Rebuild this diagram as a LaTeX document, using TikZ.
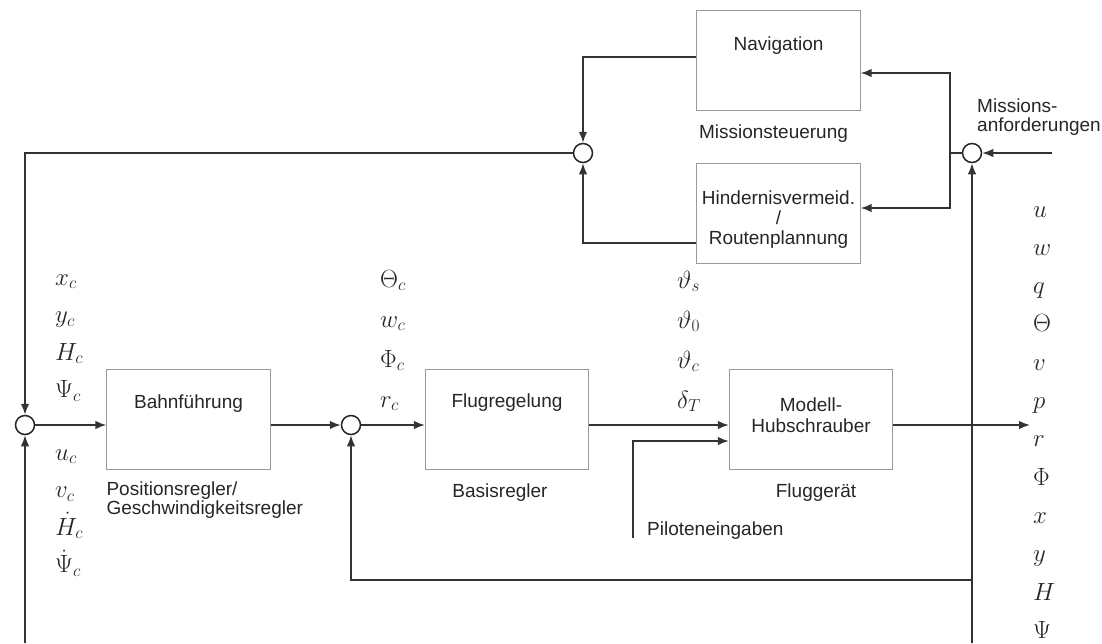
\documentclass[tikz,border=0pt]{standalone}
\usepackage{fontspec}
\setmainfont{Liberation Sans}
\usetikzlibrary{arrows.meta}

\begin{document}
\begin{tikzpicture}[x=1pt,y=-1pt,
    line/.style={draw=black!80,line width=1.6pt},
    sig/.style={line,-{Latex[length=11pt,width=8.5pt]}},
    block/.style={draw=black!40,line width=0.8pt,minimum width=163.5pt,minimum height=100pt,inner sep=0pt},
    sumpt/.style={circle,draw=black!85,line width=1.5pt,minimum size=19pt,inner sep=0pt},
    txt/.style={text=black!85,font=\fontsize{19}{21}\selectfont,inner sep=0pt},
    var/.style={text=black!85,font=\fontsize{24}{26}\selectfont,inner sep=0pt,
      text height=14pt,text depth=5pt,anchor=base west}]
  \useasboundingbox (0,0) rectangle (1102,643);

  % blocks
  \node[block] (bahn) at (188.5,419) {};
  \node[block] (flug) at (507,419) {};
  \node[block] (modell) at (811,419) {};
  \node[block] (nav) at (778.5,60) {};
  \node[block] (hind) at (778.5,213) {};

  \node[txt,anchor=base] (bahnt) at ([yshift=-40pt]bahn.north) {Bahnführung};
  \node[txt,anchor=base] (flugt) at ([yshift=-39pt]flug.north) {Flugregelung};
  \node[txt,anchor=base] (navt) at ([yshift=-41pt]nav.north) {Navigation};
  \node[txt,anchor=north,align=center,font=\fontsize{19}{21}\selectfont] (modellt)
    at ([yshift=-29pt]modell.north) {Modell-\\Hubschrauber};
  \node[txt,anchor=north,align=center,font=\fontsize{19}{20}\selectfont] (hindt)
    at ([yshift=-28pt]hind.north) {Hindernisvermeid.\\/\\Routenplannung};

  % captions
  \node[txt,anchor=north west,align=left,font=\fontsize{19}{17}\selectfont] (post)
    at ([yshift=-12pt]bahn.south west) {Positionsregler/\\Geschwindigkeitsregler};
  \node[txt,anchor=base] (basis) at ([xshift=-7pt,yshift=-28pt]flug.south) {Basisregler};
  \node[txt,anchor=base] (gerät) at ([xshift=5pt,yshift=-28pt]modell.south) {Fluggerät};
  \node[txt,anchor=base] (mist) at ([xshift=-5pt,yshift=-28pt]nav.south) {Missionsteuerung};
  \node[txt,anchor=base west] (pilt) at (647,535) {Piloteneingaben};
  \node[txt,anchor=north west,align=left,font=\fontsize{19}{19}\selectfont] (mant)
    at (977,99) {Missions-\\anforderungen};

  % sums
  \node[sumpt] (sumL) at (25,425) {};
  \node[sumpt] (sumF) at (351,425) {};
  \node[sumpt] (sumM) at (583,153) {};
  \node[sumpt] (sumR) at (972,153) {};

  \coordinate (botL) at (25,643);
  \coordinate (botR) at (972,643);
  \coordinate (fb) at (972,580);
  \coordinate (fork) at (950,153);
  \coordinate (missin) at (1052,153);
  \coordinate (pilot) at (633,538);
  \coordinate (out) at (1030,425);

  % signals
  \foreach \t [count=\i from 0] in {x_c,y_c,H_c,\Psi_c}
    \node[var] (soll\i) at (55,{285+37.5*\i}) {$\t$};
  \foreach \t [count=\i from 0] in {u_c,v_c,\dot{H}_c,\dot{\Psi}_c}
    \node[var] (sollv\i) at (55,{460+37.5*\i}) {$\t$};
  \foreach \t [count=\i from 0] in {\Theta_c,w_c,\Phi_c,r_c}
    \node[var] (lage\i) at (380,{287+40*\i}) {$\t$};
  \foreach \t [count=\i from 0] in {\vartheta_s,\vartheta_0,\vartheta_c,\delta_T}
    \node[var] (stell\i) at (677,{288+40*\i}) {$\t$};
  \foreach \t [count=\i from 0] in {u,w,q,\Theta,v,p,r,\Phi,x,y,H,\Psi}
    \node[var] (zust\i) at (1033,{217+38.3*\i}) {$\t$};

  % connectors
  \draw[sig] (sumL.east) -- (sumL.east -| bahn.west);
  \draw[sig] (bahn.east |- sumF) -- (sumF.west);
  \draw[sig] (sumF.east) -- (sumF.east -| flug.west);
  \draw[sig] (flug.east |- sumF) -- (modell.west |- sumF);
  \draw[sig] (pilot) |- ([yshift=-16pt]modell.west |- sumF);
  \draw[sig] (modell.east |- sumF) -- (out);
  \draw[sig] (botR) -- (sumR.south);
  \draw[sig] (fb) -| (sumF.south);
  \draw[sig] (botL) -- (sumL.south);
  \draw[sig] (sumM.west) -| (sumL.north);
  \draw[line] (sumR.west) -- (fork);
  \draw[sig] (fork) |- ([yshift=-13pt]nav.east);
  \draw[sig] (fork) |- ([yshift=5pt]hind.east);
  \draw[sig] ([yshift=3pt]nav.west) -| (sumM.north);
  \draw[sig] ([yshift=-30pt]hind.west) -| (sumM.south);
  \draw[sig] (missin) -- (sumR.east);
\end{tikzpicture}
\end{document}
